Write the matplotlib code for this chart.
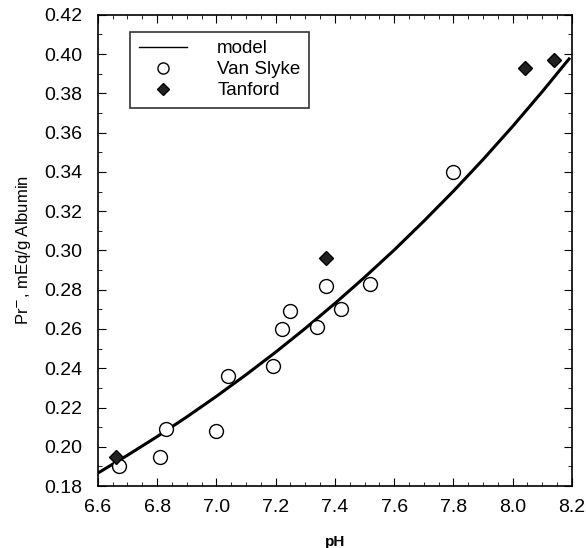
import matplotlib
matplotlib.use("Agg")
import matplotlib.pyplot as plt
from matplotlib.ticker import MultipleLocator, FormatStrFormatter

plt.rcParams['font.family'] = ['Liberation Sans', 'DejaVu Sans']

# model curve
model_ph = [6.6, 6.7, 6.8, 6.9, 7.0, 7.1, 7.2, 7.3, 7.4, 7.5, 7.6, 7.7, 7.8, 7.9, 8.0, 8.1, 8.19]
model_pr = [0.1866, 0.1957, 0.2052, 0.2152, 0.2257, 0.2367, 0.2482, 0.2603, 0.2730,
            0.2863, 0.3002, 0.3149, 0.3302, 0.3463, 0.3632, 0.3809, 0.3975]

# Van Slyke data
vs_ph = [6.67, 6.81, 6.83, 7.00, 7.04, 7.19, 7.22, 7.25, 7.34, 7.37, 7.42, 7.52, 7.80]
vs_pr = [0.190, 0.195, 0.209, 0.208, 0.236, 0.241, 0.260, 0.269, 0.261, 0.282, 0.270, 0.283, 0.340]

# Tanford data
tf_ph = [6.66, 7.37, 8.04, 8.14]
tf_pr = [0.195, 0.296, 0.393, 0.397]

fig = plt.figure(figsize=(5.86, 5.48), dpi=100)
ax = fig.add_axes([0.167, 0.113, 0.809, 0.86])

ax.plot(model_ph, model_pr, color='black', lw=2.2, label='model')
ax.plot(vs_ph, vs_pr, 'o', ms=10, mfc='white', mec='black', mew=1.0, label='Van Slyke')
ax.plot(tf_ph, tf_pr, 'D', ms=7, mfc='#222222', mec='black', mew=1.0, label='Tanford')

ax.set_xlim(6.6, 8.2)
ax.set_ylim(0.18, 0.42)
ax.xaxis.set_major_locator(MultipleLocator(0.2))
ax.xaxis.set_minor_locator(MultipleLocator(0.05))
ax.yaxis.set_major_locator(MultipleLocator(0.02))
ax.yaxis.set_minor_locator(MultipleLocator(0.01))
ax.xaxis.set_major_formatter(FormatStrFormatter('%.1f'))
ax.yaxis.set_major_formatter(FormatStrFormatter('%.2f'))
ax.tick_params(which='both', direction='in', top=True, right=True)
ax.tick_params(which='major', length=6, labelsize=14)
ax.tick_params(axis='y', which='major', pad=11)
ax.tick_params(axis='x', which='major', pad=9)
ax.tick_params(which='minor', length=3)
for s in ax.spines.values():
    s.set_linewidth(1.2)

ax.set_xlabel('pH', fontsize=11, fontweight='bold', labelpad=14)
ax.set_ylabel(r'Pr$^{-}$, mEq/g Albumin', fontsize=12, labelpad=8)

leg = ax.legend(loc='upper left', bbox_to_anchor=(0.068, 0.964), fontsize=13.5,
                frameon=True, fancybox=False, edgecolor='black', borderaxespad=0,
                handlelength=2.6, handletextpad=1.6, labelspacing=0.2,
                borderpad=0.45)
leg.get_frame().set_linewidth(1.2)
leg.legend_handles[0].set_linewidth(1.0)
leg.legend_handles[1].set_markersize(8)
leg.legend_handles[2].set_markersize(6)

fig.savefig('out.png', dpi=100)
